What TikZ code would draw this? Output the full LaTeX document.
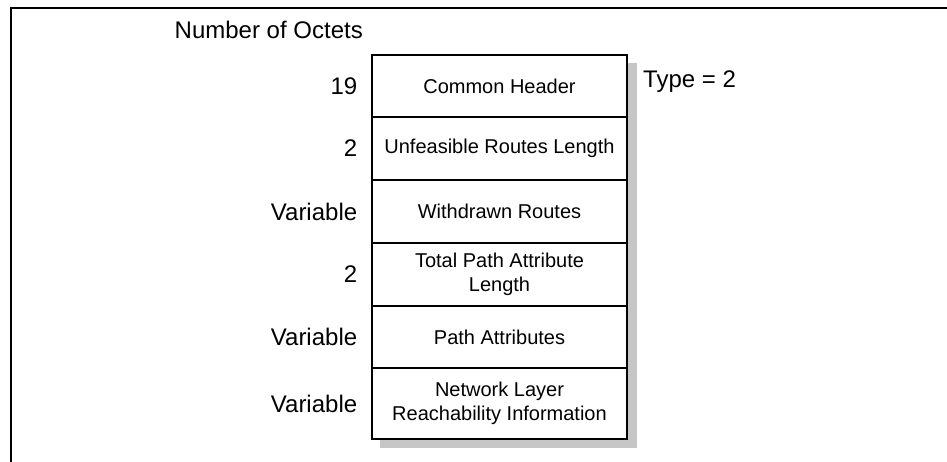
\documentclass[tikz,border=0pt]{standalone}
\usepackage{fontspec}
\setmainfont{Liberation Sans}
\usetikzlibrary{positioning}

\tikzset{
    field/.style = {draw, line width = 1.2pt, fill = white, minimum width = 255pt,
        inner sep = 0pt, align = center, font = \fontsize{20}{24}\selectfont},
    octets/.style = {anchor = east, inner sep = 0pt, font = \fontsize{24}{28}\selectfont}
}

\begin{document}
\begin{tikzpicture}[x = 1pt, y = -1pt]
        \useasboundingbox (0, 0) rectangle (947, 462);
        \draw[line width = 1.5pt] (11, 462) -- (11, 8) -- (947, 8);
        % drop shadow of the message
        \fill[gray!45] (380, 63) rectangle (637, 448);
        \foreach \n/\t/\b/\txt/\oct in {1/55/117/{Common Header}/19, 2/117/180/{Unfeasible Routes Length}/2, 3/180/243/{Withdrawn Routes}/Variable, 4/243/306/{Total Path Attribute\\Length}/2, 5/306/368/{Path Attributes}/Variable, 6/368/439/{Network Layer\\Reachability Information}/Variable}{
            \node[field, minimum height = \b - \t] (f\n) at (499.5, {(\t + \b) / 2}) {\txt};
            \node[octets, left = 14pt of f\n] (o\n) {\oct};
        }
        \node[anchor = base east, inner sep = 0pt, font = \fontsize{24}{28}\selectfont] (head) at (363, 39) {Number of Octets};
        \node[anchor = base west, inner sep = 0pt, font = \fontsize{24}{28}\selectfont] (type) at (643, 88) {Type = 2};
    \end{tikzpicture}
\end{document}
